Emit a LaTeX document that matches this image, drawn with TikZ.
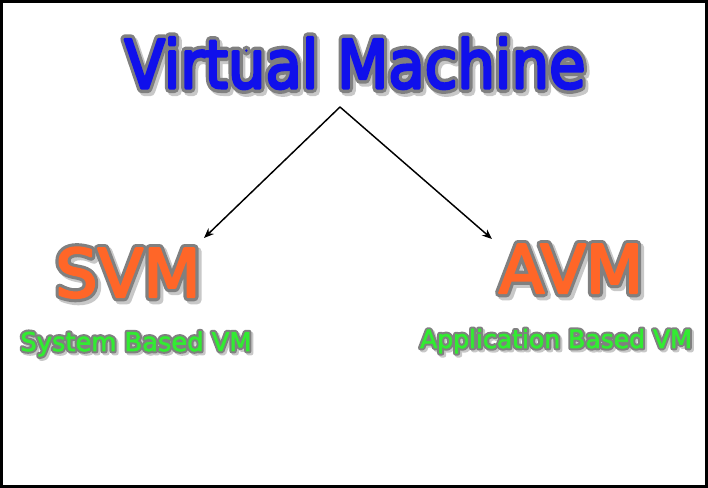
\documentclass[tikz,border=0pt]{standalone}
\usepackage{fontspec}
\usepackage{graphicx}
\usetikzlibrary{arrows.meta}
\newfontfamily\titleout[FakeBold=15]{DejaVu Sans}
\newfontfamily\titlein[FakeBold=4.5]{DejaVu Sans}
\newfontfamily\bigout[FakeBold=13]{DejaVu Sans}
\newfontfamily\bigin[FakeBold=3.5]{DejaVu Sans}
\newfontfamily\smallout[FakeBold=19]{DejaVu Sans}
\newfontfamily\smallin[FakeBold=2.6]{DejaVu Sans}
\definecolor{titleblue}{RGB}{16,16,235}
\definecolor{vmorange}{RGB}{255,102,40}
\definecolor{vmgreen}{RGB}{50,235,50}
\definecolor{outgray}{RGB}{128,128,128}
\definecolor{shadowgray}{RGB}{200,200,200}
\newcommand\roundjoin{\special{pdf:literal direct 1 j 1 J 1 M}}
% #1 fill colour, #2 outline font, #3 shadow offset, #4 inner font, #5 text
\newcommand\fancytext[5]{%
  \leavevmode\roundjoin
  \rlap{\hspace*{#3}\raisebox{-#3}{#2\textcolor{shadowgray}{#5}}}%
  \rlap{#2\textcolor{outgray}{#5}}%
  {#4\textcolor{#1}{#5}}}
\tikzset{
  fancy/.style={inner sep=0pt, anchor=base},
  conn/.style={line width=1.1pt, -{Stealth[length=7.5pt,width=6pt]}}
}
\begin{document}
\begin{tikzpicture}[x=0.75pt,y=-0.75pt]
\useasboundingbox (0,0) rectangle (708,488);
\fill[white] (0,0) rectangle (708,488);
\draw[line width=2.6pt] (1.75,1.75) rectangle (706.25,486.25);
\node[fancy] (title) at (355,88) {\fontsize{50}{60}\selectfont\scalebox{0.89}[1]{\fancytext{titleblue}{\titleout}{2.25pt}{\titlein}{Virtual Machine}}};
\node[fancy] (svm) at (128,297) {\fontsize{50}{60}\selectfont\fancytext{vmorange}{\bigout}{2.25pt}{\bigin}{SVM}};
\node[fancy] (avm) at (571,293) {\fontsize{50}{60}\selectfont\fancytext{vmorange}{\bigout}{2.25pt}{\bigin}{AVM}};
\node[fancy] (sbvm) at (136,351) {\fontsize{19.3}{23}\selectfont\fancytext{vmgreen}{\smallout}{1.5pt}{\smallin}{System Based VM}};
\node[fancy] (abvm) at (556,348) {\fontsize{18.8}{23}\selectfont\fancytext{vmgreen}{\smallout}{1.5pt}{\smallin}{Application Based VM}};
\coordinate (src) at (340,107);
\coordinate (ltip) at (204,238);
\coordinate (rtip) at (492,239);
\draw[conn] (src) -- (ltip);
\draw[conn] (src) -- (rtip);
\end{tikzpicture}
\end{document}
